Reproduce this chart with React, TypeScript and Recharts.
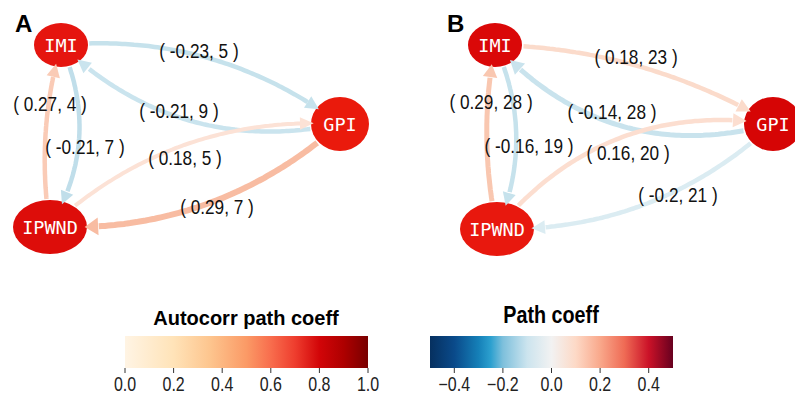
import React from "react";
import { ScatterChart, Scatter, XAxis, YAxis, ReferenceLine, ReferenceArea } from "recharts";

// nodes of the lagged path network
const nodes = ["IMI", "GPI", "IPWND"];
const nodeXA = [61, 340, 50];
const nodeYA = [45, 124, 227];
const nodeXB = [95, 373, 97];
const nodeYB = [45, 124, 229];

// edges (same order in both panels)
const edgeFrom = ["IMI", "GPI", "IPWND", "GPI", "IPWND", "IMI"];
const edgeTo = ["GPI", "IMI", "GPI", "IPWND", "IMI", "IPWND"];
const coefA = [-0.23, -0.21, 0.18, 0.29, 0.27, -0.21];
const lagA = [5, 9, 5, 7, 4, 7];
const coefB = [0.18, -0.14, 0.16, -0.2, 0.29, -0.16];
const lagB = [23, 28, 20, 21, 28, 19];

// where each edge label sits
const labelXA = [199, 179, 185, 217, 50, 85];
const labelYA = [51, 111, 158, 207, 104, 147];
const labelXB = [236, 212, 228, 278, 91, 129];
const labelYB = [57, 112, 153, 195, 102, 146];

// colour bar ticks
const autoTicks = [0, 0.2, 0.4, 0.6, 0.8, 1];
const pathTicks = [-0.4, -0.2, 0, 0.2, 0.4];

// styles
const nodeRx = [27, 29, 37];
const nodeRy = [22, 27, 27];
const nodeColorA = ["#E5150F", "#EA1A0C", "#DD0D0A"];
const nodeColorB = ["#DA0808", "#D60505", "#E8180E"];
const edgeColorA = ["#C6E2EC", "#CAE4EE", "#FCE2D6", "#F8BCA2", "#FACBB6", "#C0DEEA"];
const edgeColorB = ["#FBDBCB", "#C9E3ED", "#FCDED0", "#DBECF2", "#F9C7B0", "#C6E2EC"];
const edgeWidthA = [4.5, 4.5, 4, 6, 4.5, 4.5];
const edgeWidthB = [4.5, 5, 4.5, 4.5, 5, 4.5];
const bendA = [0.19, 0.26, 0.21, 0.2, 0.11, 0.26];
const bendB = [0.13, 0.3, 0.28, 0.2, 0.1, 0.22];

const autoStops = [
  [0, "#FFF4E4"], [0.2, "#FFE3B8"], [0.35, "#FDC58E"], [0.5, "#FB9A66"], [0.6, "#F86D4D"],
  [0.7, "#EE3D2E"], [0.8, "#D20508"], [0.9, "#AE0000"], [1, "#780000"],
];
const pathStops = [
  [0, "#06305F"], [0.1, "#0A4A8A"], [0.2, "#1580B8"], [0.25, "#2CA0CF"], [0.3, "#7EC0DC"],
  [0.4, "#CCE4EE"], [0.5, "#F2F2F2"], [0.6, "#FDD9C6"], [0.7, "#F9A88B"], [0.8, "#EF6B55"],
  [0.9, "#CB1228"], [1, "#67001F"],
];

const sans = "'Liberation Sans', Arial, sans-serif";
const squeeze = 0.84; // no narrow face installed, so condense the regular one

type Pt = { x: number; y: number };
const quad = (a: Pt, c: Pt, b: Pt, t: number): Pt => ({
  x: (1 - t) * (1 - t) * a.x + 2 * (1 - t) * t * c.x + t * t * b.x,
  y: (1 - t) * (1 - t) * a.y + 2 * (1 - t) * t * c.y + t * t * b.y,
});
const inEllipse = (p: Pt, c: Pt, rx: number, ry: number) =>
  ((p.x - c.x) / rx) ** 2 + ((p.y - c.y) / ry) ** 2 < 1;

const CurvedArrow = (props: any) => {
  const { x1, y1, x2, y2, fi, ti, bend, color, width } = props;
  if (x1 == null || x2 == null) return null;
  const a = { x: x1, y: y1 };
  const b = { x: x2, y: y2 };
  const dx = x2 - x1;
  const dy = y2 - y1;
  const L = Math.hypot(dx, dy);
  const c = { x: (x1 + x2) / 2 + (dy / L) * bend * L, y: (y1 + y2) / 2 + (-dx / L) * bend * L };
  let t0 = 0;
  while (t0 < 0.5 && inEllipse(quad(a, c, b, t0), a, nodeRx[fi] + 1, nodeRy[fi] + 1)) t0 += 0.002;
  let t1 = 1;
  while (t1 > 0.5 && inEllipse(quad(a, c, b, t1), b, nodeRx[ti] - 3, nodeRy[ti] - 3)) t1 -= 0.002;
  const tip = quad(a, c, b, t1);
  const head = 13;
  let tb = t1;
  while (tb > t0 && Math.hypot(quad(a, c, b, tb).x - tip.x, quad(a, c, b, tb).y - tip.y) < head) tb -= 0.002;
  const base = quad(a, c, b, tb);
  const ux = (tip.x - base.x) / head;
  const uy = (tip.y - base.y) / head;
  const hw = width * 1.25 + 1;
  const pts: string[] = [];
  for (let t = t0; t <= tb + 0.004; t += 0.01) {
    const p = quad(a, c, b, Math.min(t, tb + 0.004));
    pts.push(`${p.x.toFixed(1)},${p.y.toFixed(1)}`);
  }
  return (
    <g>
      <polyline points={pts.join(" ")} fill="none" stroke={color} strokeWidth={width} />
      <polygon
        points={`${tip.x},${tip.y} ${base.x - uy * hw},${base.y + ux * hw} ${base.x + uy * hw},${base.y - ux * hw}`}
        fill={color}
      />
    </g>
  );
};

const NodeShape = (props: any) => {
  const { cx, cy, payload } = props;
  return (
    <g>
      <ellipse cx={cx} cy={cy} rx={nodeRx[payload.i]} ry={nodeRy[payload.i]} fill={payload.color} />
      <text
        x={cx}
        y={cy}
        textAnchor="middle"
        dominantBaseline="central"
        fill="#fff"
        fontFamily="'DejaVu Sans Mono', monospace"
        fontSize={18.5}
      >
        {payload.name}
      </text>
    </g>
  );
};

const LabelShape = (props: any) => {
  const { cx, cy, payload } = props;
  return (
    <text
      transform={`translate(${cx},${cy}) scale(${squeeze},1)`}
      textAnchor="middle"
      dominantBaseline="central"
      fill="#111"
      fontFamily={sans}
      fontSize={20.5}
    >
      {payload.text}
    </text>
  );
};

const Panel = ({ w, nodeX, nodeY, nodeColor, coef, lag, labelX, labelY, edgeColor, edgeWidth, bend }: any) => {
  const nodeData = nodes.map((n, i) => ({ x: nodeX[i], y: nodeY[i], name: n, color: nodeColor[i], i }));
  const labelData = coef.map((c: number, i: number) => ({ x: labelX[i], y: labelY[i], text: `( ${c}, ${lag[i]} )` }));
  return (
    <ScatterChart width={w} height={262} margin={{ top: 0, right: 0, bottom: 0, left: 0 }}>
      <XAxis type="number" dataKey="x" domain={[0, w]} hide />
      <YAxis type="number" dataKey="y" domain={[0, 262]} reversed hide />
      <Scatter data={nodeData} shape={NodeShape} isAnimationActive={false} zIndex={100} />
      {edgeFrom.map((f, i) => {
        const fi = nodes.indexOf(f);
        const ti = nodes.indexOf(edgeTo[i]);
        return (
          <ReferenceLine
            key={i}
            segment={[
              { x: nodeX[fi], y: nodeY[fi] },
              { x: nodeX[ti], y: nodeY[ti] },
            ]}
            ifOverflow="visible"
            zIndex={500}
            shape={(p: any) => (
              <CurvedArrow {...p} fi={fi} ti={ti} bend={bend[i]} color={edgeColor[i]} width={edgeWidth[i]} />
            )}
          />
        );
      })}
      <Scatter data={labelData} shape={LabelShape} isAnimationActive={false} zIndex={700} />
    </ScatterChart>
  );
};

const BarTick = (props: any) => {
  const { x, y, payload } = props;
  const v = payload.value;
  const txt = v < 0 ? "\u2212" + Math.abs(v).toFixed(1) : v.toFixed(1);
  return (
    <text
      transform={`translate(${x},${y + 15}) scale(0.82,1)`}
      textAnchor="middle"
      fill="#222"
      fontFamily={sans}
      fontSize={19.5}
    >
      {txt}
    </text>
  );
};

const ColorBar = ({ id, stops, domain, ticks }: any) => {
  const anchor = ticks.map((t: number) => ({ x: t, y: 0.5 }));
  return (
    <ScatterChart width={300} height={77} margin={{ top: 6, right: 27, bottom: 0, left: 30 }}>
      <defs>
        <linearGradient id={id} x1="0" y1="0" x2="1" y2="0">
          {stops.map((s: any, i: number) => (
            <stop key={i} offset={s[0]} stopColor={s[1]} />
          ))}
        </linearGradient>
      </defs>
      <XAxis
        type="number"
        dataKey="x"
        domain={domain}
        ticks={ticks}
        interval={0}
        height={39}
        axisLine={false}
        tickSize={5}
        tickMargin={3}
        tickLine={{ stroke: "#333" }}
        tick={<BarTick />}
      />
      <YAxis type="number" dataKey="y" domain={[0, 1]} hide />
      <ReferenceArea x1={domain[0]} x2={domain[1]} y1={0} y2={1} fill={`url(#${id})`} fillOpacity={1} stroke="none" ifOverflow="visible" />
      <Scatter data={anchor} shape={() => <g />} isAnimationActive={false} />
    </ScatterChart>
  );
};

export default function App() {
  return (
    <div style={{ position: "relative", width: 795, height: 401, background: "#fff", overflow: "hidden" }}>
      <style>{`body{margin:0}`}</style>
      <div style={{ position: "absolute", left: 0, top: 0 }}>
        <Panel
          w={400}
          nodeX={nodeXA}
          nodeY={nodeYA}
          nodeColor={nodeColorA}
          coef={coefA}
          lag={lagA}
          labelX={labelXA}
          labelY={labelYA}
          edgeColor={edgeColorA}
          edgeWidth={edgeWidthA}
          bend={bendA}
        />
      </div>
      <div style={{ position: "absolute", left: 400, top: 0 }}>
        <Panel
          w={395}
          nodeX={nodeXB}
          nodeY={nodeYB}
          nodeColor={nodeColorB}
          coef={coefB}
          lag={lagB}
          labelX={labelXB}
          labelY={labelYB}
          edgeColor={edgeColorB}
          edgeWidth={edgeWidthB}
          bend={bendB}
        />
      </div>
      <div style={{ position: "absolute", left: 15, top: 12, font: `bold 24px ${sans}`, lineHeight: "24px" }}>A</div>
      <div style={{ position: "absolute", left: 447, top: 12, font: `bold 24px ${sans}`, lineHeight: "24px" }}>B</div>
      <div style={{ position: "absolute", left: 96, top: 308, width: 300, textAlign: "center", font: `bold 20px ${sans}`, lineHeight: "20px" }}>
        Autocorr path coeff
      </div>
      <div
        style={{
          position: "absolute",
          left: 401,
          top: 303,
          width: 300,
          textAlign: "center",
          font: `bold 23.5px ${sans}`,
          lineHeight: "24px",
          transform: `scaleX(${squeeze})`,
        }}
      >
        Path coeff
      </div>
      <div style={{ position: "absolute", left: 95, top: 330 }}>
        <ColorBar id="autoGrad" stops={autoStops} domain={[0, 1]} ticks={autoTicks} />
      </div>
      <div style={{ position: "absolute", left: 400, top: 330 }}>
        <ColorBar id="pathGrad" stops={pathStops} domain={[-0.5, 0.5]} ticks={pathTicks} />
      </div>
    </div>
  );
}
